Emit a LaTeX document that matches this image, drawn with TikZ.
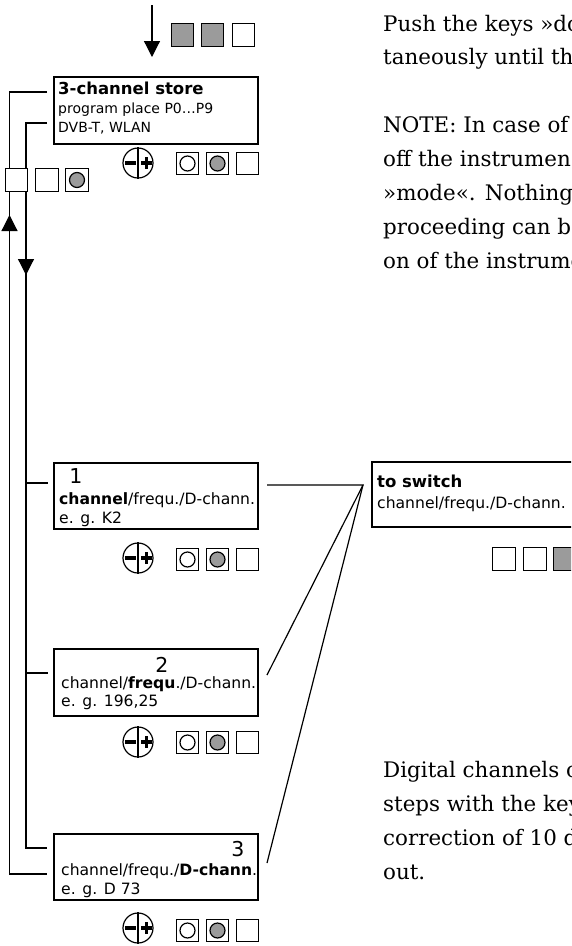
\documentclass[tikz,border=0pt]{standalone}
\usepackage{fontspec}
\setmainfont{DejaVu Serif}
\newfontfamily\sansf{DejaVu Sans}
\usetikzlibrary{arrows.meta}
\definecolor{keygray}{RGB}{155,155,155}
\tikzset{
  panel/.style={draw, line width=2pt, inner sep=0pt, minimum width=204pt, minimum height=67pt, fill=white},
  key/.style={draw, line width=1.2pt, inner sep=0pt, minimum size=22.5pt, fill=white},
  graykey/.style={key, fill=keygray},
  wire/.style={line width=1.2pt},
  tipline/.style={line width=1.2pt, -{Triangle[length=16pt,width=16pt]}},
  para/.style={anchor=base west, inner sep=0pt, font=\fontsize{21.4}{34}\selectfont},
  boxtxt/.style={anchor=base west, inner sep=0pt, font=\sansf\fontsize{15.6}{19}\selectfont},
  smalltxt/.style={anchor=base west, inner sep=0pt, font=\sansf\fontsize{14}{19}\selectfont},
  titletxt/.style={anchor=base west, inner sep=0pt, font=\sansf\bfseries\fontsize{16.5}{19}\selectfont},
  numtxt/.style={anchor=base, inner sep=0pt, font=\sansf\fontsize{20.5}{22}\selectfont},
  pmring/.style={draw, circle, line width=1.2pt, minimum size=30pt, inner sep=0pt, fill=white},
}
\newcommand\pmsym[3]{%
  \node[pmring] (#3) at (#1,#2) {};
  \draw[line width=1.2pt] (#3.north) -- (#3.south);
  \fill ({#1-13},{#2-1.9}) rectangle ({#1-2.5},{#2+1.9});
  \fill ({#1+3},{#2-1.9}) rectangle ({#1+14},{#2+1.9});
  \fill ({#1+6.6},{#2-5.8}) rectangle ({#1+10.4},{#2+5.8});
}
\newcommand\keyrow[2]{%
  \node[key] (#2a) at (187.5,#1) {};
  \draw[line width=1.2pt, fill=white] (#2a.center) circle (7.5pt);
  \node[key] (#2b) at (217.5,#1) {};
  \draw[line width=1.2pt, fill=keygray] (#2b.center) circle (7.5pt);
  \node[key] (#2c) at (247.5,#1) {};
}
\begin{document}
\begin{tikzpicture}[x=1pt,y=-1pt]
\useasboundingbox (0,0) rectangle (571,946);
\clip (0,0) rectangle (571,946);

% top input arrow and keys
\coordinate (inS) at (152,5);
\coordinate (inE) at (152,57);
\draw[tipline] (inS) -- (inE);
\node[graykey] (tk1) at (182.5,35) {};
\node[graykey] (tk2) at (212.5,35) {};
\node[key] (tk3) at (243.5,35) {};

% left loop lines
\coordinate (a0) at (47,92);
\coordinate (aTop) at (9.5,92);
\coordinate (aBot) at (9.5,874);
\coordinate (a1) at (47,874);
\draw[wire] (a0) -- (aTop) -- (aBot) -- (a1);
\coordinate (b0) at (47,123);
\coordinate (bTop) at (26,123);
\coordinate (bBot) at (26,848);
\coordinate (b1) at (47,848);
\draw[wire] (b0) -- (bTop) -- (bBot) -- (b1);
\coordinate (bj2) at (26,483);
\coordinate (be2) at (48,483);
\coordinate (bj3) at (26,673);
\coordinate (be3) at (48,673);
\draw[wire] (bj2) -- (be2);
\draw[wire] (bj3) -- (be3);
\coordinate (upS) at (9.5,231);
\coordinate (upE) at (9.5,215);
\draw[tipline] (upS) -- (upE);
\coordinate (dnS) at (26,259);
\coordinate (dnE) at (26,275);
\draw[tipline] (dnS) -- (dnE);
\node[key] (lk1) at (16.5,180) {};
\node[key] (lk2) at (47,180) {};
\node[key] (lk3) at (77,180) {};
\draw[line width=1.2pt, fill=keygray] (lk3.center) circle (7.5pt);

% fan connectors
\coordinate (f0) at (267,485);
\coordinate (fp) at (363,485);
\coordinate (f2) at (267,675);
\coordinate (f3) at (267,863);
\draw[wire] (f0) -- (fp) -- (f2);
\draw[wire] (fp) -- (f3);

% box 1
\node[panel] (box1) at (156,110.5) {};
\node[titletxt] (t1a) at (58,94) {3-channel store};
\node[smalltxt] (t1b) at (58,113) {program place P0…P9};
\node[smalltxt] (t1c) at (58,132) {DVB-T, WLAN};
\pmsym{138}{163}{pm1}
\keyrow{163.5}{k1}

% box 2
\node[panel, minimum height=66pt] (box2) at (156,496) {};
\node[numtxt] (n2) at (76,483) {1};
\node[boxtxt] (t2a) at (59,504) {\textbf{channel}/frequ./D-chann.};
\node[boxtxt] (t2b) at (59,523) {e. g. K2};
\pmsym{138}{558}{pm2}
\keyrow{559.5}{k2}

% box 3
\node[panel] (box3) at (156,682.5) {};
\node[numtxt] (n3) at (162,672) {2};
\node[boxtxt] (t3a) at (61,688) {channel/\textbf{frequ}./D-chann.};
\node[boxtxt] (t3b) at (61,706) {e. g. 196,25};
\pmsym{138}{742}{pm3}
\keyrow{742.5}{k3}

% box 4
\node[panel, minimum height=66pt] (box4) at (156,867) {};
\node[numtxt] (n4) at (238,856) {3};
\node[boxtxt] (t4a) at (61,875) {channel/frequ./\textbf{D-chann}.};
\node[boxtxt] (t4b) at (61,894) {e. g. D 73};
\pmsym{138}{928}{pm4}
\keyrow{930.5}{k4}

% switch box
\node[panel, minimum width=260pt, minimum height=65pt] (swbox) at (502,494.5) {};
\node[titletxt] (sw1) at (377,487) {to switch};
\node[boxtxt] (sw2) at (377,508) {channel/frequ./D-chann.};
\node[key] (sk1) at (504,559) {};
\node[key] (sk2) at (535,559) {};
\node[graykey] (sk3) at (565,559) {};

% paragraphs
\node[para] (p1) at (383,31) {Push the keys »do};
\node[para] (p2) at (383,64) {taneously until th};
\node[para] (p3) at (383,132) {NOTE: In case of};
\node[para] (p4) at (383,166) {off the instrumen};
\node[para] (p5) at (383,200) {»mode«. Nothing};
\node[para] (p6) at (383,234) {proceeding can b};
\node[para] (p7) at (383,268) {on of the instrume};
\node[para] (q1) at (383,777) {Digital channels c};
\node[para] (q2) at (383,811) {steps with the key};
\node[para] (q3) at (383,845) {correction of 10 d};
\node[para] (q4) at (383,879) {out.};
\end{tikzpicture}
\end{document}
